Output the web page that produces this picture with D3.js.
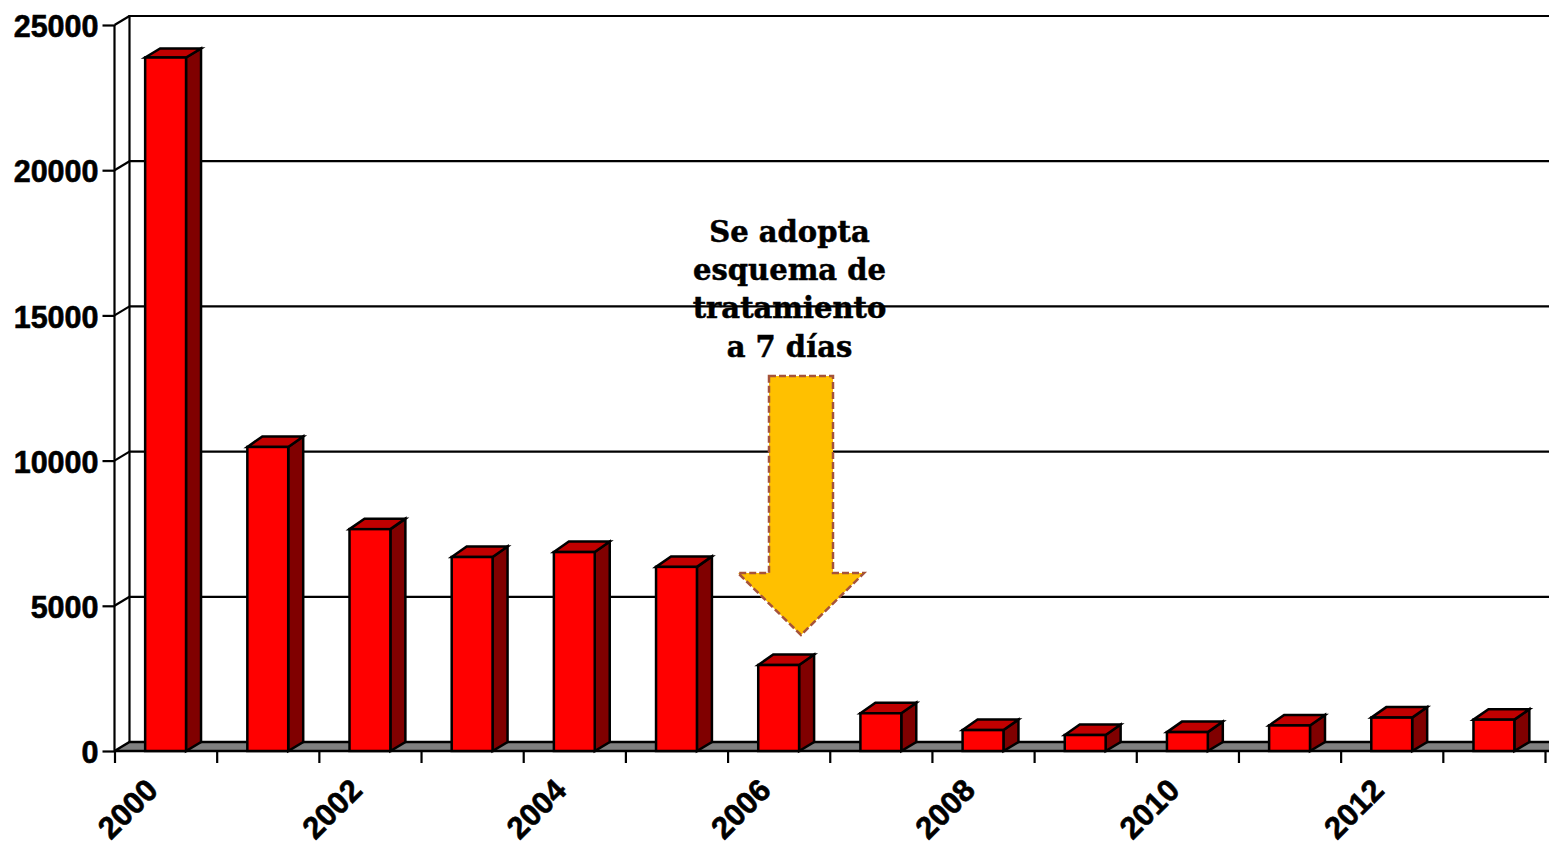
<!DOCTYPE html>
<html>
<head>
<meta charset="utf-8">
<script src="https://cdnjs.cloudflare.com/ajax/libs/d3/7.8.5/d3.min.js"></script>
<style>
  html, body { margin: 0; padding: 0; background: #fff; overflow: hidden; }
  svg { display: block; }
  .axis path { display: none; }
  .axis line { stroke: #000; stroke-width: 2.2; }
  .axis text { font-family: "Liberation Sans", sans-serif; font-weight: bold; font-size: 30.5px; fill: #000; stroke: #000; stroke-width: 0.6; }
  .axis.x-labels text { font-size: 31px; }
  .note { font-family: "DejaVu Serif", serif; font-weight: bold; font-size: 29px; fill: #000; stroke: #000; stroke-width: 0.5; text-anchor: middle; }
</style>
</head>
<body>
<script>
const years = d3.range(2000, 2014)
const cases = [23880, 10470, 7640, 6680, 6850, 6340, 2960, 1300, 720, 550, 650, 880, 1150, 1080]
const yTicks = [0, 5000, 10000, 15000, 20000, 25000]
const labelYears = [2000, 2002, 2004, 2006, 2008, 2010, 2012]
const noteLines = ['Se adopta', 'esquema de', 'tratamiento', 'a 7 días']

const width = 1549
const height = 848
const plotLeft = 114.5
const plotRight = 1545
const plotBottom = 751
const plotTop = 25

// 3d offset of the back wall
const dx = 15
const dy = 9

// bar tops are a bit deeper than the floor, except the tallest one
const barDy = (v) => v > 20000 ? dy : 10.5

const svg = d3.select('body').append('svg')
  .attr('width', width)
  .attr('height', height)

const x = d3.scaleBand()
  .domain(years)
  .range([plotLeft, plotRight])
  .paddingInner(0.6)
  .paddingOuter(0.3)

const xEdge = d3.scaleLinear()
  .domain([2000, 2014])
  .range([plotLeft, plotRight])

const y = d3.scaleLinear()
  .domain([0, 25000])
  .range([plotBottom, plotTop])

// floor
svg.append('path')
  .attr('fill', '#808080')
  .attr('stroke', '#000')
  .attr('stroke-width', 2.5)
  .attr('d', d3.line()([
    [plotLeft, plotBottom],
    [plotLeft + dx, plotBottom - dy],
    [width + 20, plotBottom - dy],
    [width + 20, plotBottom],
    [plotLeft, plotBottom]
  ]))

// back wall gridlines
svg.selectAll('.grid')
    .data(yTicks.slice(1))
  .enter().append('line')
    .attr('class', 'grid')
    .attr('x1', plotLeft + dx)
    .attr('x2', width)
    .attr('y1', (d) => y(d) - dy)
    .attr('y2', (d) => y(d) - dy)
    .attr('stroke', '#000')
    .attr('stroke-width', 2.2)

// side wall diagonals
svg.selectAll('.diag')
    .data(yTicks.slice(1))
  .enter().append('line')
    .attr('class', 'diag')
    .attr('x1', plotLeft)
    .attr('x2', plotLeft + dx)
    .attr('y1', (d) => y(d))
    .attr('y2', (d) => y(d) - dy)
    .attr('stroke', '#000')
    .attr('stroke-width', 2.2)

svg.append('line')
  .attr('x1', plotLeft + dx)
  .attr('x2', plotLeft + dx)
  .attr('y1', y(25000) - dy - 1)
  .attr('y2', plotBottom - dy)
  .attr('stroke', '#000')
  .attr('stroke-width', 2.2)

svg.append('line')
  .attr('x1', plotLeft)
  .attr('x2', plotLeft)
  .attr('y1', y(25000))
  .attr('y2', plotBottom)
  .attr('stroke', '#000')
  .attr('stroke-width', 2.2)

// axes
svg.append('g')
  .attr('class', 'axis y')
  .attr('transform', 'translate(' + [plotLeft, 0] + ')')
  .call(d3.axisLeft(y)
    .tickValues(yTicks)
    .tickSize(12)
    .tickPadding(4)
    .tickFormat((d) => d))
  .selectAll('text')
    .attr('transform', 'translate(0,2)')

svg.append('g')
  .attr('class', 'axis x-ticks')
  .attr('transform', 'translate(' + [0, plotBottom] + ')')
  .call(d3.axisBottom(xEdge)
    .tickValues(d3.range(2000, 2015))
    .tickSize(12)
    .tickFormat(''))

svg.append('g')
  .attr('class', 'axis x-labels')
  .attr('transform', 'translate(' + [0, plotBottom] + ')')
  .call(d3.axisBottom(x)
    .tickValues(labelYears)
    .tickSize(0)
    .tickFormat((d) => d))
  .selectAll('text')
    .attr('text-anchor', 'end')
    .attr('dy', 0)
    .attr('y', 0)
    .attr('transform', 'translate(-6,41) rotate(-45)')

// bars
const bars = svg.selectAll('.bar')
    .data(years.map((d, i) => ({ year: d, value: cases[i] })))
  .enter().append('g')
    .attr('class', 'bar')
    .attr('stroke', '#000')
    .attr('stroke-width', 2.5)

bars.append('path')
  .attr('fill', '#800000')
  .attr('d', (d) => {
    let x1 = x(d.year) + x.bandwidth()
    return d3.line()([
      [x1, y(d.value)],
      [x1 + dx, y(d.value) - barDy(d.value)],
      [x1 + dx, plotBottom - dy],
      [x1, plotBottom]
    ]) + 'Z'
  })

bars.append('path')
  .attr('fill', '#c00000')
  .attr('d', (d) => {
    let x0 = x(d.year)
    let x1 = x0 + x.bandwidth()
    return d3.line()([
      [x0, y(d.value)],
      [x0 + dx, y(d.value) - barDy(d.value)],
      [x1 + dx, y(d.value) - barDy(d.value)],
      [x1, y(d.value)]
    ]) + 'Z'
  })

bars.append('rect')
  .attr('fill', '#ff0000')
  .attr('x', (d) => x(d.year))
  .attr('y', (d) => y(d.value))
  .attr('width', x.bandwidth())
  .attr('height', (d) => plotBottom - y(d.value))

// annotation arrow
svg.append('path')
  .attr('fill', '#ffc000')
  .attr('stroke', '#a5533a')
  .attr('stroke-width', 2.5)
  .attr('stroke-dasharray', '7 3')
  .attr('d', 'M769,376 L833,376 L833,573 L864,573 L801,635 L738,573 L769,573 Z')

svg.selectAll('.note')
    .data(noteLines)
  .enter().append('text')
    .attr('class', 'note')
    .attr('x', 789.5)
    .attr('y', (d, i) => 241.5 + i * 38.4)
    .text((d) => d)
</script>
</body>
</html>
